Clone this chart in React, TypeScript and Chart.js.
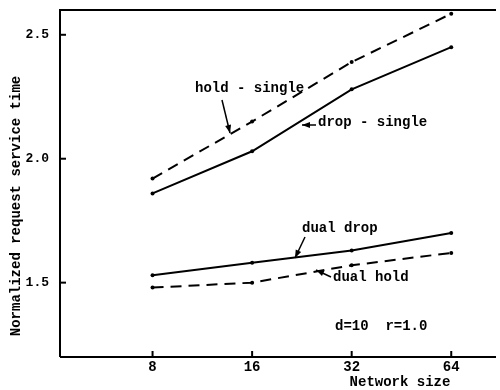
import React, { useEffect, useRef } from "react";
import { Chart, registerables } from "chart.js";
Chart.register(...registerables);

const networkSizes = [8, 16, 32, 64];
const holdSingle = [1.92, 2.15, 2.39, 2.585];
const dropSingle = [1.86, 2.03, 2.28, 2.45];
const dualDrop = [1.53, 1.58, 1.63, 1.7];
const dualHold = [1.48, 1.5, 1.57, 1.62];
const yTickValues = [1.5, 2.0, 2.5];

const FONT = "bold 14px 'Liberation Mono', 'DejaVu Sans Mono', monospace";

function arrow(ctx: CanvasRenderingContext2D, x1: number, y1: number, x2: number, y2: number) {
  ctx.beginPath();
  ctx.moveTo(x1, y1);
  ctx.lineTo(x2, y2);
  ctx.stroke();
  const a = Math.atan2(y2 - y1, x2 - x1);
  const L = 8, W = 3;
  ctx.beginPath();
  ctx.moveTo(x2, y2);
  ctx.lineTo(x2 - L * Math.cos(a) + W * Math.sin(a), y2 - L * Math.sin(a) - W * Math.cos(a));
  ctx.lineTo(x2 - L * Math.cos(a) - W * Math.sin(a), y2 - L * Math.sin(a) + W * Math.cos(a));
  ctx.closePath();
  ctx.fill();
}

const decor = {
  id: "decor",
  afterDraw(chart: any) {
    const { ctx, chartArea } = chart;
    const xs = chart.scales.x;
    const ys = chart.scales.y;
    ctx.save();
    ctx.strokeStyle = "#000";
    ctx.fillStyle = "#000";
    ctx.lineWidth = 2;
    // frame
    ctx.beginPath();
    ctx.moveTo(chartArea.left, chartArea.bottom);
    ctx.lineTo(chartArea.left, chartArea.top);
    ctx.lineTo(chartArea.right, chartArea.top);
    ctx.moveTo(chartArea.left, chartArea.bottom);
    ctx.lineTo(chartArea.right, chartArea.bottom);
    ctx.stroke();
    // y ticks inside
    yTickValues.forEach((v) => {
      const py = ys.getPixelForValue(v);
      ctx.beginPath();
      ctx.moveTo(chartArea.left, py);
      ctx.lineTo(chartArea.left + 6, py);
      ctx.stroke();
    });
    // x ticks
    networkSizes.forEach((v) => {
      const px = xs.getPixelForValue(v);
      ctx.beginPath();
      ctx.moveTo(px, chartArea.bottom - 6);
      ctx.lineTo(px, chartArea.bottom + 1);
      ctx.stroke();
    });
    // texts
    ctx.font = FONT;
    ctx.textBaseline = "middle";
    ctx.textAlign = "left";
    ctx.fillText("hold - single", 195, 88);
    ctx.fillText("drop - single", 318, 122);
    ctx.fillText("dual drop", 302, 228);
    ctx.fillText("dual hold", 333, 277);
    ctx.fillText("d=10  r=1.0", 335, 326);
    ctx.textAlign = "center";
    ctx.fillText("Network size", 400, 382);
    ctx.save();
    ctx.translate(16, 206);
    ctx.rotate(-Math.PI / 2);
    ctx.fillText("Normalized request service time", 0, 0);
    ctx.restore();
    // arrows
    ctx.lineWidth = 1.5;
    arrow(ctx, 222, 100, 230, 133);
    arrow(ctx, 316, 125, 302, 125);
    arrow(ctx, 305, 237, 295, 258);
    arrow(ctx, 331, 277, 316, 270);
    ctx.restore();
  },
};

export default function App() {
  const ref = useRef<HTMLCanvasElement>(null);
  useEffect(() => {
    document.body.style.margin = "0";
    const mk = (arr: number[]) => networkSizes.map((x, i) => ({ x, y: arr[i] }));
    const base = {
      borderColor: "#000",
      backgroundColor: "#000",
      borderWidth: 2,
      pointRadius: 2,
      pointBackgroundColor: "#000",
      pointBorderWidth: 0,
      fill: false,
      tension: 0,
    };
    const chart = new Chart(ref.current!, {
      type: "line",
      data: {
        datasets: [
          { ...base, label: "hold - single", data: mk(holdSingle), borderDash: [11, 7] },
          { ...base, label: "drop - single", data: mk(dropSingle) },
          { ...base, label: "dual drop", data: mk(dualDrop) },
          { ...base, label: "dual hold", data: mk(dualHold), borderDash: [11, 7] },
        ],
      },
      options: {
        animation: false,
        responsive: false,
        maintainAspectRatio: false,
        layout: { padding: { top: 10, right: 2, left: 0, bottom: 0 } },
        plugins: { legend: { display: false }, tooltip: { enabled: false } },
        scales: {
          x: {
            type: "logarithmic",
            min: 4.2,
            max: 87.4,
            grid: { display: false, drawTicks: false },
            border: { display: false },
            afterBuildTicks: (s: any) => {
              s.ticks = networkSizes.map((v) => ({ value: v }));
            },
            afterFit: (s: any) => {
              s.height = 33;
              s.paddingLeft = 0;
              s.paddingRight = 0;
            },
            ticks: {
              autoSkip: false,
              maxRotation: 0,
              padding: 2,
              color: "#000",
              font: { family: "'Liberation Mono', monospace", size: 14, weight: "bold" },
              callback: (v: any) => String(v),
            },
          },
          y: {
            type: "linear",
            min: 1.2,
            max: 2.6,
            grid: { display: false, drawTicks: false },
            border: { display: false },
            afterBuildTicks: (s: any) => {
              s.ticks = yTickValues.map((v) => ({ value: v }));
            },
            afterFit: (s: any) => {
              s.width = 60;
              s.paddingTop = 0;
              s.paddingBottom = 0;
            },
            ticks: {
              padding: 11,
              color: "#000",
              font: { family: "'Liberation Mono', monospace", size: 13, weight: "bold" },
              callback: (v: any) => Number(v).toFixed(1),
            },
          },
        },
      },
      plugins: [decor],
    });
    return () => chart.destroy();
  }, []);
  return (
    <div style={{ width: 500, height: 390, background: "#fff" }}>
      <canvas ref={ref} width={500} height={390} />
    </div>
  );
}
